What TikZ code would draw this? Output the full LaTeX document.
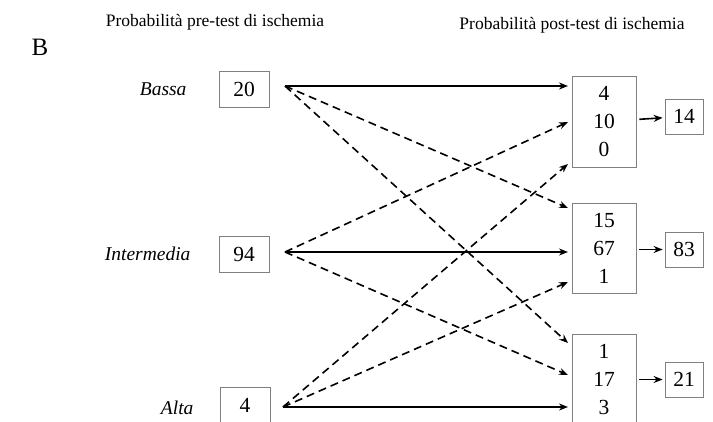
\documentclass[tikz,border=0pt]{standalone}
\usepackage{fontspec}
\setmainfont{Liberation Serif}
\usetikzlibrary{arrows.meta}

\begin{document}
\begin{tikzpicture}[x=1pt,y=1pt,
        numbox/.style={draw=gray,line width=0.8pt,inner sep=0pt,align=center,font=\fontsize{21.5}{28}\selectfont},
        grade/.style={anchor=east,font=\fontsize{19.5}{22}\selectfont\itshape},
        heading/.style={font=\fontsize{17.5}{20}\selectfont},
        solidarr/.style={line width=1.6pt,-{Stealth[length=9pt,width=7pt]}},
        dasharr/.style={solidarr,dash pattern=on 8pt off 5pt}]
    \useasboundingbox (0,0) rectangle (713,421);
    \node[font=\fontsize{25}{26}\selectfont] (panel) at (40,374) {B};
    \node[heading] (pre) at (215,399) {Probabilità pre-test di ischemia};
    \node[heading] (post) at (572,396) {Probabilità post-test di ischemia};

    \node[grade] (bassa) at (190,332) {Bassa};
    \node[grade] (intermedia) at (194,167) {Intermedia};
    \node[grade] (alta) at (197,13) {Alta};

    \node[numbox,minimum width=50,minimum height=36] (pre20) at (244,332) {20};
    \node[numbox,minimum width=50,minimum height=36] (pre94) at (244,167) {94};
    \node[numbox,minimum width=50,minimum height=36] (pre4) at (245,16) {4};

    \node[numbox,minimum width=64,minimum height=91] (postB) at (604,299.5) {4\\10\\0};
    \node[numbox,minimum width=64,minimum height=90] (postI) at (604,173) {15\\67\\1};
    \node[numbox,minimum width=64,minimum height=91] (postA) at (604,41.5) {1\\17\\3};

    \node[numbox,minimum width=38,minimum height=35] (tot14) at (684,304.5) {14};
    \node[numbox,minimum width=38,minimum height=35] (tot83) at (684,171.5) {83};
    \node[numbox,minimum width=38,minimum height=35] (tot21) at (684,41.5) {21};

    \coordinate (sB) at (285,335);
    \coordinate (sI) at (285,169);
    \coordinate (sA) at (283,14);
    \coordinate (tB1) at (568,335);
    \coordinate (tB2) at (568,299);
    \coordinate (tB3) at (568,257);
    \coordinate (tI1) at (568,213);
    \coordinate (tI2) at (568,169);
    \coordinate (tI3) at (568,139);
    \coordinate (tA1) at (568,78);
    \coordinate (tA2) at (568,46);
    \coordinate (tA3) at (568,14);

    \draw[solidarr] (sB) -- (tB1);
    \draw[dasharr] (sB) -- (tI1);
    \draw[dasharr] (sB) -- (tA1);
    \draw[dasharr] (sI) -- (tB2);
    \draw[solidarr] (sI) -- (tI2);
    \draw[dasharr] (sI) -- (tA2);
    \draw[dasharr] (sA) -- (tB3);
    \draw[dasharr] (sA) -- (tI3);
    \draw[solidarr] (sA) -- (tA3);

    \draw[solidarr,shorten <=3pt,shorten >=2pt] (postB) -- (tot14);
    \draw[solidarr,shorten <=3pt,shorten >=2pt] (postI.east |- tot83) -- (tot83);
    \draw[solidarr,shorten <=3pt,shorten >=2pt] (postA) -- (tot21);
\end{tikzpicture}
\end{document}
